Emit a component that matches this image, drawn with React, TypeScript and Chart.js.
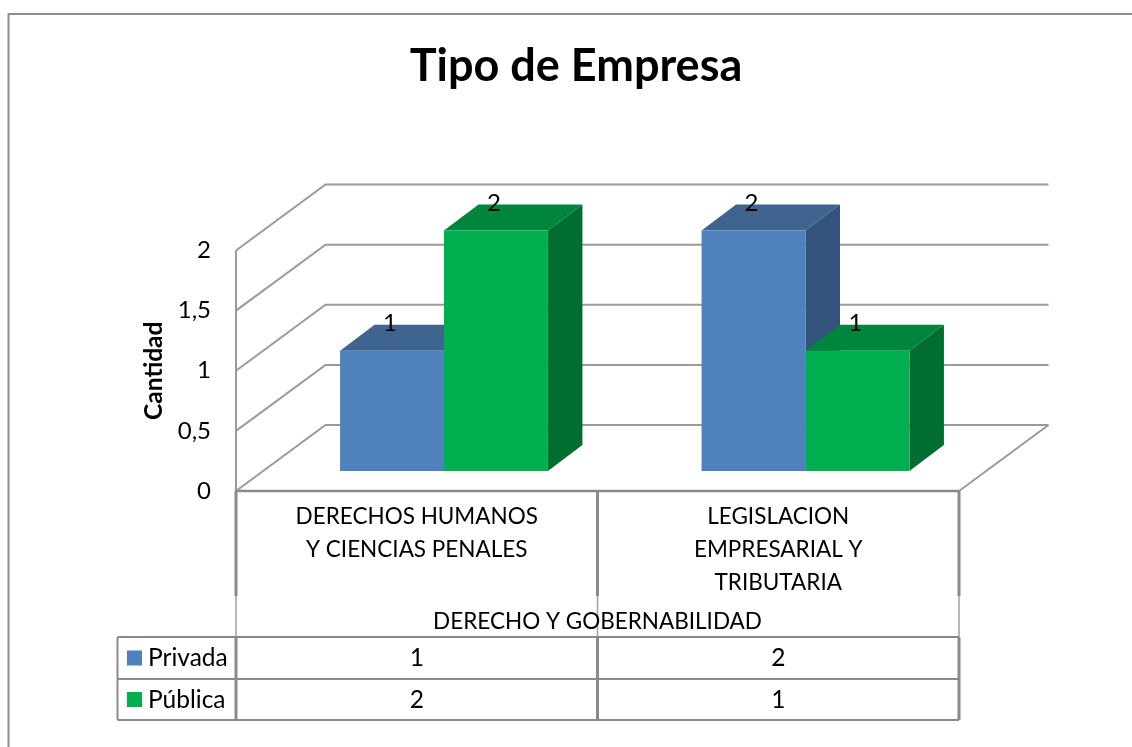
import React, { useEffect, useRef } from "react";
import { Chart, registerables } from "chart.js";

Chart.register(...registerables);

const categories = [
  ["DERECHOS HUMANOS", "Y CIENCIAS PENALES"],
  ["LEGISLACION", "EMPRESARIAL Y", "TRIBUTARIA"],
];
const groupLabel = "DERECHO Y GOBERNABILIDAD";
const privada = [1, 2];
const publica = [2, 1];
const seriesNames = ["Privada", "Pública"];
const yTicks = [0, 0.5, 1, 1.5, 2];
const frontColors = ["#4F81BD", "#00B050"];
const topColors = ["#3E648F", "#00853C"];
const sideColors = ["#31537C", "#006E31"];
const LINE = "#8A8A8A";
const FONT = "Lato, Carlito, Calibri, sans-serif";

const WALL = { dx: 89.5, dy: -66 };
const BAR_OFFSET = { dx: 27.25, dy: -20 };
const BAR_DEPTH = { dx: 34.5, dy: -26 };

const poly = (ctx: CanvasRenderingContext2D, pts: number[][], fill: string) => {
  ctx.beginPath();
  pts.forEach(([x, y], i) => (i ? ctx.lineTo(x, y) : ctx.moveTo(x, y)));
  ctx.closePath();
  ctx.fillStyle = fill;
  ctx.fill();
};

const line = (ctx: CanvasRenderingContext2D, pts: number[][], w = 2, c = LINE) => {
  ctx.beginPath();
  pts.forEach(([x, y], i) => (i ? ctx.lineTo(x, y) : ctx.moveTo(x, y)));
  ctx.lineWidth = w;
  ctx.strokeStyle = c;
  ctx.stroke();
};

const scene3d = {
  id: "scene3d",
  beforeDraw(chart: any) {
    line(chart.ctx, [[8.5, 747], [8.5, 14], [1132, 14]], 2, "#8F8F8F");
  },
  beforeDatasetsDraw(chart: any) {
    const { ctx, scales } = chart;
    const { x, y } = scales;
    ctx.save();
    ctx.lineJoin = "miter";
    // walls
    yTicks.forEach((v) => {
      const py = y.getPixelForValue(v);
      line(ctx, [[x.left, py], [x.left + WALL.dx, py + WALL.dy], [x.right + WALL.dx, py + WALL.dy]], 2, "#9A9A9A");
    });
    const y0 = y.getPixelForValue(0);
    line(ctx, [[x.right, y0], [x.right + WALL.dx, y0 + WALL.dy]], 2, "#9A9A9A");
    line(ctx, [[x.left, y.getPixelForValue(2)], [x.left, y0]], 2, "#9A9A9A");
    ctx.restore();

    ctx.save();
    ctx.translate(BAR_OFFSET.dx, BAR_OFFSET.dy);
    // depth faces of each bar, then library bars drawn in front
    chart.data.datasets.forEach((_: any, d: number) => {
      chart.getDatasetMeta(d).data.forEach((bar: any) => {
        const l = bar.x - bar.width / 2;
        const r = bar.x + bar.width / 2;
        const t = bar.y;
        const b = bar.base;
        const { dx, dy } = BAR_DEPTH;
        poly(ctx, [[l, t], [r, t], [r + dx, t + dy], [l + dx, t + dy]], topColors[d]);
        poly(ctx, [[r, t], [r + dx, t + dy], [r + dx, b + dy], [r, b]], sideColors[d]);
      });
    });
  },
  afterDatasetsDraw(chart: any) {
    const { ctx, scales } = chart;
    ctx.restore();
    const { x } = scales;
    ctx.save();
    ctx.font = `24px ${FONT}`;
    ctx.fillStyle = "#000";
    ctx.textAlign = "center";
    ctx.textBaseline = "middle";
    // data labels
    chart.data.datasets.forEach((ds: any, d: number) => {
      chart.getDatasetMeta(d).data.forEach((bar: any, i: number) => {
        ctx.fillText(String(ds.data[i]), bar.x + BAR_OFFSET.dx - 2, bar.y + BAR_OFFSET.dy - 27.5);
      });
    });
    // axis and data table rules
    const L = x.left;
    const R = x.right;
    const M = (L + R) / 2;
    const y0 = scales.y.getPixelForValue(0);
    const legendLeft = 117.5;
    const rows = [637, 679, 720];
    line(ctx, [[L, y0], [R, y0]], 2.5);
    [L, M, R].forEach((px) => {
      line(ctx, [[px, y0], [px, 596]], 3);
      line(ctx, [[px, 596], [px, rows[0]]], 1.5, "#A0A0A0");
      line(ctx, [[px, rows[0]], [px, rows[2]]], 3);
    });
    rows.forEach((ry) => line(ctx, [[legendLeft, ry], [R, ry]], 2));
    line(ctx, [[legendLeft, rows[0]], [legendLeft, rows[2]]], 2);
    // group label
    ctx.fillStyle = "#000";
    ctx.font = `22.5px ${FONT}`;
    ctx.fillText(groupLabel, M, 622);
    // table cells and legend keys
    ctx.font = `24.5px ${FONT}`;
    chart.data.datasets.forEach((ds: any, d: number) => {
      const cy = (rows[d] + rows[d + 1]) / 2 + 0.5;
      ds.data.forEach((v: number, i: number) => {
        ctx.fillStyle = "#000";
        ctx.textAlign = "center";
        ctx.fillText(String(v), x.getPixelForValue(i), cy);
      });
      ctx.fillStyle = frontColors[d];
      ctx.fillRect(127, cy - 8, 15, 15);
      ctx.fillStyle = "#000";
      ctx.textAlign = "left";
      ctx.fillText(seriesNames[d], 148, cy);
    });
    ctx.restore();
  },
};

export default function App() {
  const ref = useRef<HTMLCanvasElement>(null);
  useEffect(() => {
    const chart = new Chart(ref.current!, {
      type: "bar",
      data: {
        labels: categories as any,
        datasets: [
          { label: seriesNames[0], data: privada, backgroundColor: frontColors[0], yAxisID: "y" },
          { label: seriesNames[1], data: publica, backgroundColor: frontColors[1], yAxisID: "y" },
        ],
      },
      options: {
        animation: false,
        responsive: false,
        devicePixelRatio: 1,
        layout: { padding: { left: 20, top: 0, right: 0, bottom: 0 } },
        datasets: { bar: { categoryPercentage: 0.575, barPercentage: 1, clip: false } } as any,
        plugins: {
          legend: { display: false },
          tooltip: { enabled: false },
          title: {
            display: true,
            text: "Tipo de Empresa",
            color: "#000",
            font: { family: FONT, size: 45, weight: "bold", lineHeight: 1.2 },
            padding: { top: 39, bottom: 157.5 },
          },
        },
        scales: {
          x: {
            afterFit: (s: any) => { s.height = 256; },
            grid: { display: false },
            border: { display: false },
            ticks: {
              color: "#000",
              padding: 1,
              maxRotation: 0,
              autoSkip: false,
              font: { family: FONT, size: 22.5, lineHeight: 1.47 },
            },
          },
          y: {
            min: 0,
            max: 2,
            afterFit: (s: any) => { s.width = 216; },
            grid: { display: false, drawTicks: false },
            border: { display: false },
            afterBuildTicks: (s: any) => { s.ticks = yTicks.map((value) => ({ value })); },
            ticks: {
              color: "#000",
              padding: 25,
              font: { family: FONT, size: 24 },
              callback: (v: any) => String(v).replace(".", ","),
            },
            title: {
              display: true,
              text: "Cantidad",
              color: "#000",
              font: { family: FONT, size: 24.5, weight: "bold", lineHeight: 1.2 },
              padding: { top: 119, bottom: 0 },
            },
          },
          yr: {
            position: "right",
            min: 0,
            max: 2,
            afterFit: (s: any) => { s.width = 173; },
            grid: { display: false, drawTicks: false },
            border: { display: false },
            ticks: { display: false },
          },
        },
      },
      plugins: [scene3d],
    });
    return () => chart.destroy();
  }, []);
  return (
    <div style={{ position: "absolute", left: 0, top: 0, width: 1132, height: 747, background: "#fff" }}>
      <canvas ref={ref} width={1132} height={747} style={{ display: "block" }} />
    </div>
  );
}
